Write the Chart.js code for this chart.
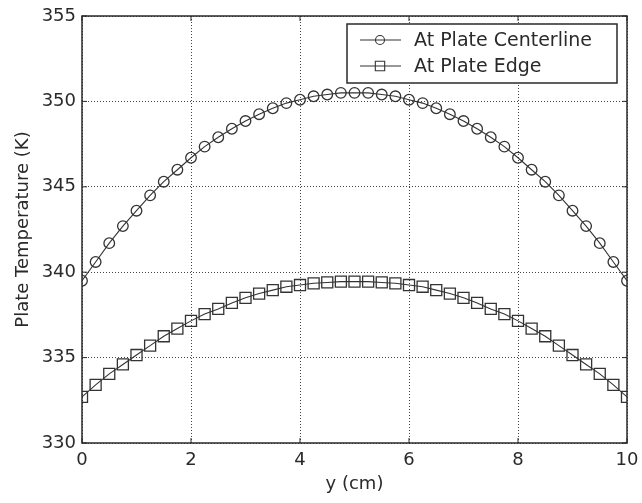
<!DOCTYPE html>
<html>
<head>
<meta charset="utf-8">
<script src="https://cdn.jsdelivr.net/npm/chart.js@4/dist/chart.umd.min.js"></script>
<style>
  html, body { margin: 0; padding: 0; background: #fff; }
  #wrap { width: 642px; height: 503px; }
</style>
</head>
<body>
<div id="wrap"><canvas id="plateChart" width="642" height="503"></canvas></div>
<script>
const yPositions = [0, 0.25, 0.5, 0.75, 1, 1.25, 1.5, 1.75, 2, 2.25, 2.5, 2.75, 3, 3.25, 3.5, 3.75, 4, 4.25, 4.5, 4.75, 5,
    5.25, 5.5, 5.75, 6, 6.25, 6.5, 6.75, 7, 7.25, 7.5, 7.75, 8, 8.25, 8.5, 8.75, 9, 9.25, 9.5, 9.75, 10];

const centerlineTemps = [339.5, 340.6, 341.7, 342.7, 343.6, 344.5, 345.3, 346.0, 346.7, 347.35, 347.9, 348.4, 348.85, 349.25, 349.6, 349.9, 350.1, 350.3, 350.4, 350.5, 350.5,
    350.5, 350.4, 350.3, 350.1, 349.9, 349.6, 349.25, 348.85, 348.4, 347.9, 347.35, 346.7, 346.0, 345.3, 344.5, 343.6, 342.7, 341.7, 340.6, 339.5];

const edgeTemps = [332.7, 333.4, 334.05, 334.6, 335.15, 335.7, 336.25, 336.7, 337.15, 337.55, 337.85, 338.2, 338.5, 338.75, 338.95, 339.15, 339.25, 339.35, 339.4, 339.45, 339.45,
    339.45, 339.4, 339.35, 339.25, 339.15, 338.95, 338.75, 338.5, 338.2, 337.85, 337.55, 337.15, 336.7, 336.25, 335.7, 335.15, 334.6, 334.05, 333.4, 332.7];

const seriesLabels = ['At Plate Centerline', 'At Plate Edge'];
const xTicks = [0, 2, 4, 6, 8, 10];
const yTicks = [330, 335, 340, 345, 350, 355];

const FONT = '"DejaVu Sans", "Liberation Sans", Arial, sans-serif';
const INK = '#2a2a2a';
const LINE = '#333';

const toPoints = (vals) => yPositions.map((x, i) => ({ x: x, y: vals[i] }));

// frame + inward ticks on all four sides
const framePlugin = {
    id: 'frame',
    afterDatasetsDraw(chart) {
        const { ctx, chartArea: a, scales } = chart;
        ctx.save();
        ctx.strokeStyle = INK;
        ctx.lineWidth = 1.5;
        ctx.strokeRect(a.left, a.top, a.right - a.left, a.bottom - a.top);
        ctx.lineWidth = 1;
        ctx.beginPath();
        xTicks.forEach(v => {
            const px = scales.x.getPixelForValue(v);
            ctx.moveTo(px, a.bottom); ctx.lineTo(px, a.bottom - 5);
            ctx.moveTo(px, a.top); ctx.lineTo(px, a.top + 5);
        });
        yTicks.forEach(v => {
            const py = scales.y.getPixelForValue(v);
            ctx.moveTo(a.left, py); ctx.lineTo(a.left + 5, py);
            ctx.moveTo(a.right, py); ctx.lineTo(a.right - 5, py);
        });
        ctx.stroke();
        ctx.restore();
    }
};

// boxed legend in the upper right corner of the plot
const boxLegend = {
    id: 'boxLegend',
    afterDraw(chart) {
        const { ctx, chartArea: a } = chart;
        const right = a.right - 10, top = a.top + 8;
        const left = right - 270, bottom = top + 59;
        ctx.save();
        ctx.fillStyle = '#fff';
        ctx.fillRect(left, top, right - left, bottom - top);
        ctx.strokeStyle = INK;
        ctx.lineWidth = 1.5;
        ctx.strokeRect(left, top, right - left, bottom - top);

        chart.data.datasets.forEach((ds, i) => {
            const cy = top + 16 + i * 26;
            ctx.strokeStyle = LINE;
            ctx.lineWidth = 1.1;
            ctx.beginPath();
            ctx.moveTo(left + 13, cy);
            ctx.lineTo(left + 54, cy);
            ctx.stroke();
            ctx.fillStyle = 'rgba(0,0,0,0)';
            Chart.helpers.drawPoint(ctx, {
                pointStyle: ds.pointStyle,
                radius: ds.pointRadius * 0.85,
                borderWidth: 1.2
            }, left + 33, cy);
            ctx.fillStyle = INK;
            ctx.font = '19px ' + FONT;
            ctx.textBaseline = 'middle';
            ctx.fillText(ds.label, left + 67, cy + 1);
        });
        ctx.restore();
    }
};

const noEdgePadding = (axis) => {
    axis.paddingLeft = 0; axis.paddingRight = 0;
    axis.paddingTop = 0; axis.paddingBottom = 0;
};

new Chart(document.getElementById('plateChart').getContext('2d'), {
    type: 'line',
    data: {
        datasets: [
            {
                label: seriesLabels[0],
                data: toPoints(centerlineTemps),
                borderColor: LINE,
                borderWidth: 1.1,
                pointStyle: 'circle',
                pointRadius: 5.3,
                pointBorderWidth: 1.3,
                pointBorderColor: LINE,
                pointBackgroundColor: 'rgba(0,0,0,0)',
                tension: 0
            },
            {
                label: seriesLabels[1],
                data: toPoints(edgeTemps),
                borderColor: LINE,
                borderWidth: 1.1,
                pointStyle: 'rect',
                pointRadius: 7.8,
                pointBorderWidth: 1.3,
                pointBorderColor: LINE,
                pointBackgroundColor: 'rgba(0,0,0,0)',
                tension: 0
            }
        ]
    },
    options: {
        responsive: false,
        animation: false,
        layout: { padding: { top: 16, right: 15, left: 0, bottom: 0 } },
        plugins: {
            legend: { display: false },
            tooltip: { enabled: false }
        },
        scales: {
            x: {
                type: 'linear',
                min: 0,
                max: 10,
                afterBuildTicks: (axis) => { axis.ticks = xTicks.map(v => ({ value: v })); },
                afterFit: (axis) => { axis.height = 60; noEdgePadding(axis); },
                grid: { color: '#444', lineWidth: 1, drawTicks: false },
                border: { display: false, dash: [1, 2] },
                ticks: { color: INK, font: { family: FONT, size: 18 }, padding: 7, maxRotation: 0 },
                title: { display: true, text: 'y (cm)', color: INK, font: { family: FONT, size: 18 }, padding: { top: 2, bottom: 8 } }
            },
            y: {
                min: 330,
                max: 355,
                afterBuildTicks: (axis) => { axis.ticks = yTicks.map(v => ({ value: v })); },
                afterFit: (axis) => { axis.width = 82; noEdgePadding(axis); },
                grid: { color: '#444', lineWidth: 1, drawTicks: false },
                border: { display: false, dash: [1, 2] },
                ticks: { color: INK, font: { family: FONT, size: 18 }, padding: 6 },
                title: { display: true, text: 'Plate Temperature (K)', color: INK, font: { family: FONT, size: 18 }, padding: { top: 13, bottom: 4 } }
            }
        }
    },
    plugins: [framePlugin, boxLegend]
});
</script>
</body>
</html>
